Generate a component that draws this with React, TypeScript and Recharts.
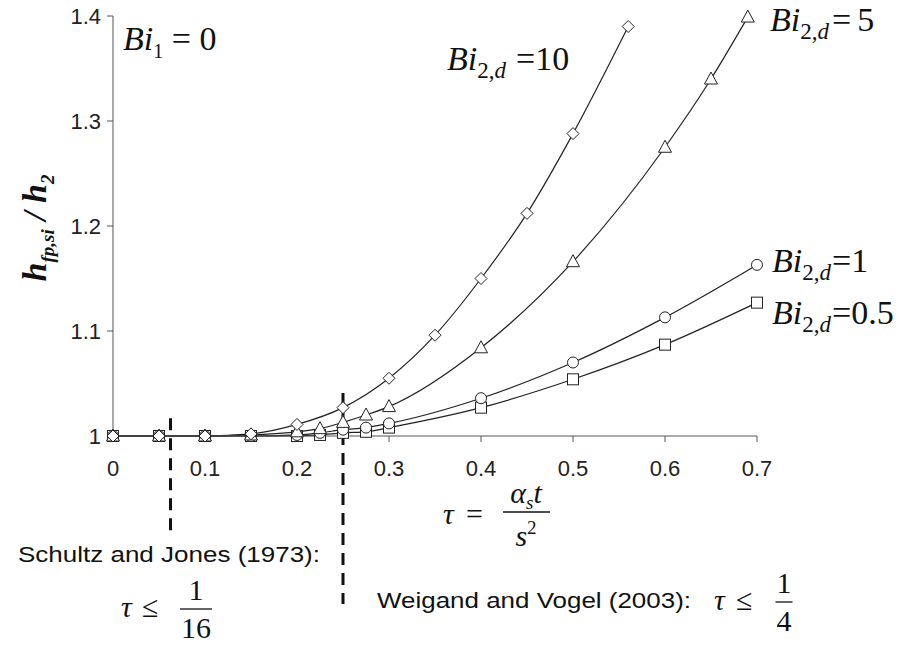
import React from 'react';
import { LineChart, Line, XAxis, YAxis, ReferenceLine } from 'recharts';

// axis ticks
const xTicks = [0, 0.1, 0.2, 0.3, 0.4, 0.5, 0.6, 0.7];
const yTicks = [1, 1.1, 1.2, 1.3, 1.4];

// Bi2,d = 10 (diamonds)
const tauBi10 = [0, 0.05, 0.1, 0.15, 0.2, 0.25, 0.3, 0.35, 0.4, 0.45, 0.5, 0.56];
const hBi10 = [1, 1, 1, 1.002, 1.011, 1.027, 1.055, 1.096, 1.15, 1.212, 1.288, 1.39];
// Bi2,d = 5 (triangles)
const tauBi5 = [0, 0.05, 0.1, 0.15, 0.2, 0.225, 0.25, 0.275, 0.3, 0.4, 0.5, 0.6, 0.65, 0.69];
const hBi5 = [1, 1, 1, 1.001, 1.004, 1.007, 1.013, 1.02, 1.028, 1.084, 1.166, 1.275, 1.34, 1.399];
// Bi2,d = 1 (circles) and 0.5 (squares)
const tauLow = [0, 0.05, 0.1, 0.15, 0.2, 0.225, 0.25, 0.275, 0.3, 0.4, 0.5, 0.6, 0.7];
const hBi1 = [1, 1, 1, 1, 1.001, 1.003, 1.006, 1.008, 1.012, 1.036, 1.07, 1.113, 1.163];
const hBi05 = [1, 1, 1, 1, 1, 1.001, 1.003, 1.004, 1.008, 1.027, 1.054, 1.087, 1.127];

// stability limits: 1/16 (Schultz & Jones), 1/4 (Weigand & Vogel)
const tauLimits = [1 / 16, 1 / 4];

const toRows = (xs: number[], ys: number[]) => xs.map((t, i) => ({ tau: t, h: ys[i] }));

const INK = '#222';
const SERIF = '"Liberation Serif", "Times New Roman", serif';
const SANS = '"Liberation Sans", Arial, sans-serif';

const Diamond = (p: any) =>
  p.cx == null ? null : (
    <path key={p.key} d={`M${p.cx},${p.cy - 6}L${p.cx + 6},${p.cy}L${p.cx},${p.cy + 6}L${p.cx - 6},${p.cy}Z`}
      fill="#fff" stroke={INK} strokeWidth={1} />
  );
const Triangle = (p: any) =>
  p.cx == null ? null : (
    <path key={p.key} d={`M${p.cx},${p.cy - 7}L${p.cx + 6.5},${p.cy + 5}L${p.cx - 6.5},${p.cy + 5}Z`}
      fill="#fff" stroke={INK} strokeWidth={1} />
  );
const Circle = (p: any) =>
  p.cx == null ? null : <circle key={p.key} cx={p.cx} cy={p.cy} r={5.5} fill="#fff" stroke={INK} strokeWidth={1} />;
const Square = (p: any) =>
  p.cx == null ? null : (
    <rect key={p.key} x={p.cx - 5.5} y={p.cy - 5.5} width={11} height={11} fill="#fff" stroke={INK} strokeWidth={1} />
  );

// label "Bi_{2,d} = v"
const BiLabel = ({ x, y, v, g1 = 0, g2 = 0 }: { x: number; y: number; v: string; g1?: number; g2?: number }) => (
  <text x={x} y={y} fontFamily={SERIF} fontSize={34} fill="#111">
    <tspan fontStyle="italic">Bi</tspan>
    <tspan fontSize={23} dy={8}>2,</tspan>
    <tspan fontSize={23} fontStyle="italic">d</tspan>
    <tspan dy={-8} dx={g1}>=</tspan>
    <tspan dx={g2}>{v}</tspan>
  </text>
);

const Frac = ({ cx, y, w, num, den, size = 30 }: any) => (
  <g fontFamily={SERIF} fontSize={size} fill="#111" textAnchor="middle">
    <text x={cx} y={y - 9}>{num}</text>
    <line x1={cx - w / 2} x2={cx + w / 2} y1={y} y2={y} stroke="#111" strokeWidth={1.3} />
    <text x={cx} y={y + 29}>{den}</text>
  </g>
);

const Annotations = () => (
  <svg width={911} height={645} style={{ position: 'absolute', left: 0, top: 0, pointerEvents: 'none' }}>
    <text x={123} y={50} fontFamily={SERIF} fontSize={34} fill="#111">
      <tspan fontStyle="italic">Bi</tspan>
      <tspan fontSize={20} dy={8}>1</tspan>
      <tspan dy={-8}> = 0</tspan>
    </text>
    <BiLabel x={447} y={70} v="10" g1={10} />
    <BiLabel x={770} y={31} v="5" g1={3} g2={6} />
    <BiLabel x={772} y={272} v="1" g1={1} />
    <BiLabel x={772} y={324} v="0.5" g1={1} />

    {/* y axis title */}
    <text transform="translate(46,228) rotate(-90)" textAnchor="middle" fontFamily={SERIF}
      fontWeight="bold" fontStyle="italic" fontSize={34} fill="#111">
      h<tspan fontSize={19} dy={8}>fp,si</tspan>
      <tspan dy={-8}> / h</tspan>
      <tspan fontSize={19} dy={8}>2</tspan>
    </text>

    {/* x axis title */}
    <text x={443} y={524} fontFamily={SERIF} fontSize={30} fontStyle="italic" fill="#111">τ</text>
    <text x={466} y={524} fontFamily={SERIF} fontSize={30} fill="#111">=</text>
    <g fontFamily={SERIF} fill="#111" textAnchor="middle">
      <text x={526} y={503} fontSize={30} fontStyle="italic">
        α<tspan fontSize={19} dy={6}>s</tspan><tspan dy={-6}>t</tspan>
      </text>
      <line x1={503} x2={550} y1={512} y2={512} stroke="#111" strokeWidth={1.3} />
      <text x={526} y={546} fontSize={30} fontStyle="italic">
        s<tspan fontSize={19} dy={-12} fontStyle="normal">2</tspan>
      </text>
    </g>

    {/* criteria */}
    <text x={18} y={562} fontFamily={SANS} fontSize={22} fill="#111" textLength={302} lengthAdjust="spacingAndGlyphs">
      Schultz and Jones (1973):
    </text>
    <text x={121} y={617} fontFamily={SERIF} fontSize={30} fontStyle="italic" fill="#111">τ</text>
    <text x={142} y={617} fontFamily={SERIF} fontSize={30} fill="#111">≤</text>
    <Frac cx={196} y={609} w={32} num="1" den="16" />

    <text x={377} y={608} fontFamily={SANS} fontSize={22} fill="#111" textLength={314} lengthAdjust="spacingAndGlyphs">
      Weigand and Vogel (2003):
    </text>
    <text x={714} y={610} fontFamily={SERIF} fontSize={30} fontStyle="italic" fill="#111">τ</text>
    <text x={736} y={610} fontFamily={SERIF} fontSize={30} fill="#111">≤</text>
    <Frac cx={784} y={602} w={17} num="1" den="4" />
  </svg>
);

export default function App() {
  const tick = { fontFamily: SANS, fontSize: 22, fill: '#222' };
  return (
    <div style={{ position: 'relative', width: 911, height: 645, background: '#fff' }}>
      <style>{'body{margin:0}'}</style>
      <LineChart width={911} height={645} margin={{ top: 16, right: 154, bottom: 169, left: 0 }}>
        <XAxis
          dataKey="tau"
          type="number"
          domain={[0, 0.7]}
          ticks={xTicks}
          tickFormatter={(v: number) => (v === 0 ? '0' : v.toFixed(1))}
          tick={tick}
          tickSize={6}
          tickMargin={18}
          height={40}
          stroke="#555"
        />
        <YAxis
          type="number"
          domain={[1, 1.4]}
          ticks={yTicks}
          tickFormatter={(v: number) => (v === 1 ? '1' : v.toFixed(1))}
          tick={tick}
          tickSize={6}
          tickMargin={6}
          width={113}
          stroke="#555"
        />
        <ReferenceLine
          segment={[{ x: tauLimits[0], y: 1.017 }, { x: tauLimits[0], y: 0.91 }]}
          stroke="#111" strokeWidth={3} strokeDasharray="12 8" ifOverflow="visible"
        />
        <ReferenceLine
          segment={[{ x: tauLimits[1], y: 1.041 }, { x: tauLimits[1], y: 0.84 }]}
          stroke="#111" strokeWidth={3} strokeDasharray="12 8" ifOverflow="visible"
        />
        <Line data={toRows(tauLow, hBi05)} dataKey="h" type="monotone" stroke={INK} strokeWidth={1.2}
          dot={Square} isAnimationActive={false} />
        <Line data={toRows(tauLow, hBi1)} dataKey="h" type="monotone" stroke={INK} strokeWidth={1.2}
          dot={Circle} isAnimationActive={false} />
        <Line data={toRows(tauBi5, hBi5)} dataKey="h" type="monotone" stroke={INK} strokeWidth={1.2}
          dot={Triangle} isAnimationActive={false} />
        <Line data={toRows(tauBi10, hBi10)} dataKey="h" type="monotone" stroke={INK} strokeWidth={1.2}
          dot={Diamond} isAnimationActive={false} />
      </LineChart>
      <Annotations />
    </div>
  );
}
